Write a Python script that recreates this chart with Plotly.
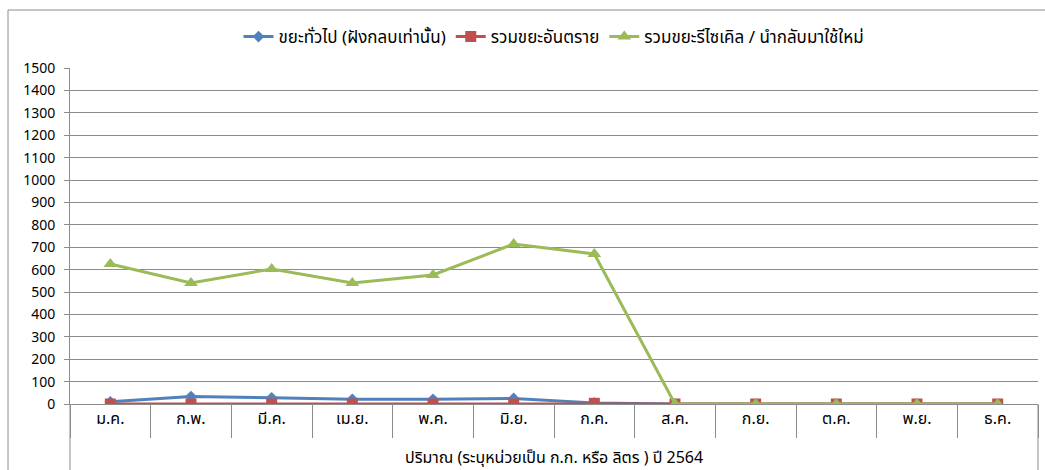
import plotly.graph_objects as go

months = ["ม.ค.", "ก.พ.", "มี.ค.", "เม.ย.", "พ.ค.", "มิ.ย.", "ก.ค.", "ส.ค.", "ก.ย.", "ต.ค.", "พ.ย.", "ธ.ค."]
general_waste = [10, 33, 28, 21, 21, 25, 5, 0, 0, 0, 0, 0]
hazardous_waste = [0, 0, 0, 0, 0, 0, 3, 0, 0, 0, 0, 0]
recycle_waste = [625, 540, 603, 540, 576, 714, 670, 0, 0, 0, 0, 0]

names = ["ขยะทั่วไป (ฝังกลบเท่านั้น)", "รวมขยะอันตราย", "รวมขยะรีไซเคิล / นำกลับมาใช้ใหม่"]
x_title = "ปริมาณ (ระบุหน่วยเป็น ก.ก. หรือ ลิตร ) ปี 2564"

FONT = "Tahoma, 'Noto Sans Thai', 'Noto Sans', sans-serif"
W, H = 1045, 470
L, R, T, B = 70, 7, 68, 66
pw, ph = W - L - R, H - T - B
THAI = 16

fig = go.Figure()
fig.add_trace(go.Scatter(x=months, y=general_waste, name=names[0], mode="lines+markers",
                         line=dict(color="#4F81BD", width=3),
                         marker=dict(symbol="diamond", size=9, color="#4F81BD")))
fig.add_trace(go.Scatter(x=months, y=hazardous_waste, name=names[1], mode="lines+markers",
                         line=dict(color="#C0504D", width=3),
                         marker=dict(symbol="square", size=11, color="#C0504D")))
fig.add_trace(go.Scatter(x=months, y=recycle_waste, name=names[2], mode="lines+markers",
                         line=dict(color="#9BBB59", width=3),
                         marker=dict(symbol="triangle-up", size=12, color="#9BBB59")))
# invisible trace for separator axis
fig.add_trace(go.Scatter(x=months, y=[None] * 12, xaxis="x2", showlegend=False,
                         hoverinfo="skip", mode="lines"))

grid = "#8C8C8C"
fig.update_layout(
    width=W, height=H,
    margin=dict(l=L, r=R, t=T, b=B),
    paper_bgcolor="white", plot_bgcolor="white",
    font=dict(family=FONT, size=13, color="black"),
    legend=dict(orientation="h", x=0.5, xanchor="center", y=(H - B - 37) / ph, yanchor="middle",
                yref="paper", font=dict(size=17), tracegroupgap=0,
                bgcolor="rgba(0,0,0,0)"),
    xaxis=dict(type="category", categoryarray=months, range=[-0.5, 11.5],
               showgrid=False, showline=True, linecolor=grid, linewidth=1,
               ticks="", tickfont=dict(size=THAI), fixedrange=True),
    xaxis2=dict(type="category", categoryarray=months, range=[-0.5, 11.5],
                overlaying="x", side="bottom", anchor="y", tickson="boundaries",
                ticks="outside", ticklen=33, tickcolor=grid, tickwidth=1,
                showticklabels=False, showgrid=False, showline=False),
    yaxis=dict(range=[0, 1500], dtick=100, showgrid=True, gridcolor=grid, gridwidth=1,
               showline=True, linecolor=grid, linewidth=1, ticks="outside", ticklen=5,
               tickcolor=grid, tickfont=dict(size=14), zeroline=False, ticklabelstandoff=6),
    showlegend=True,
)

fig.add_annotation(text=x_title, xref="paper", yref="paper", x=0.5, y=-(458 - (H - B)) / ph,
                   showarrow=False, yanchor="middle", font=dict(size=THAI))

# axis box extensions and chart border
shapes = [
    dict(type="line", xref="paper", yref="paper", x0=0, x1=0, y0=0, y1=-(B) / ph,
         line=dict(color=grid, width=1)),
    dict(type="line", xref="paper", yref="paper", x0=1, x1=1, y0=0, y1=-(B) / ph,
         line=dict(color=grid, width=1)),
    dict(type="line", xref="paper", yref="paper", x0=(8 - L) / pw, x1=(W + 5 - L) / pw,
         y0=(H - B - 10) / ph, y1=(H - B - 10) / ph, line=dict(color=grid, width=1)),
    dict(type="line", xref="paper", yref="paper", x0=(8 - L) / pw, x1=(8 - L) / pw,
         y0=(H - B - 10) / ph, y1=-(B + 10) / ph, line=dict(color=grid, width=1)),
]
fig.update_layout(shapes=shapes)

fig.write_html("out.html", config={"displayModeBar": False},
               post_script="document.body.style.margin='0';document.body.style.overflow='hidden';")
